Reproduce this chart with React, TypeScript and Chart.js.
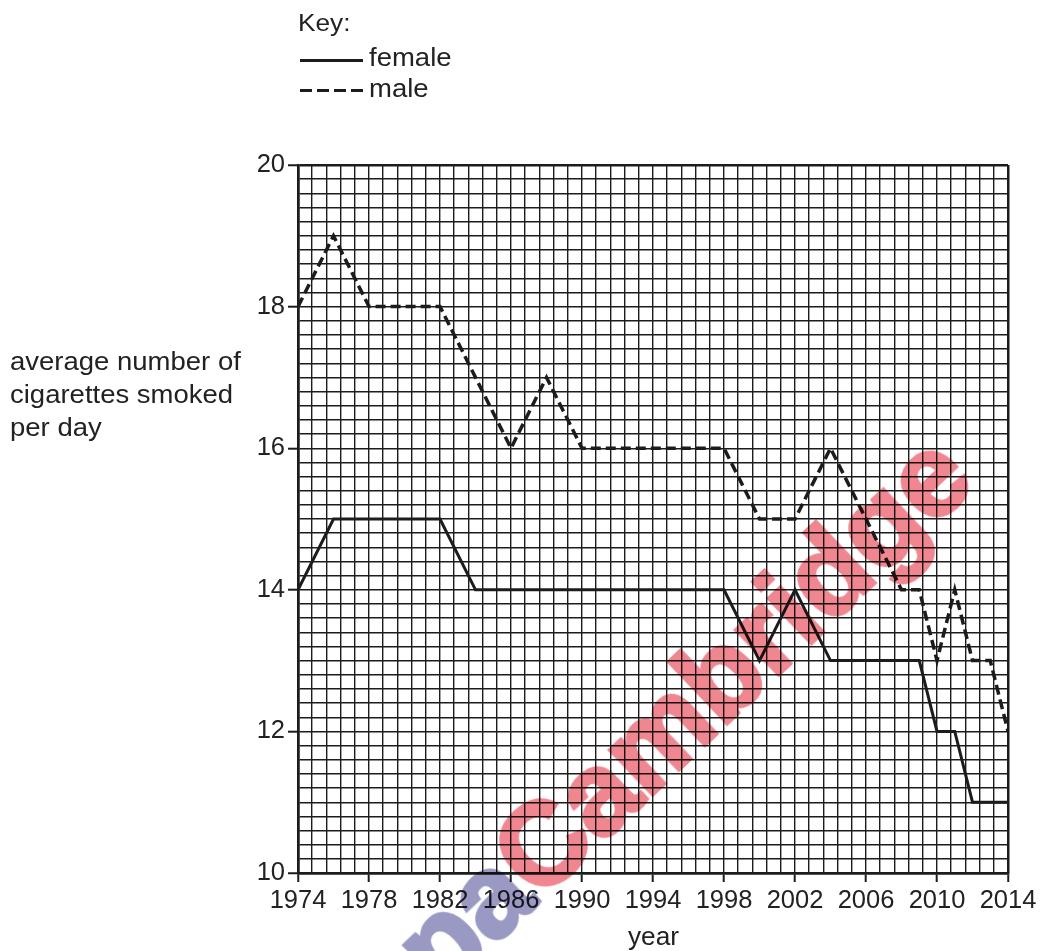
import React, { useEffect, useRef } from "react";
import { Chart, registerables } from "chart.js";

Chart.register(...registerables);

// ---- data ----
const femaleYears = [1974, 1976, 1982, 1984, 1998, 2000, 2002, 2004, 2009, 2010, 2011, 2012, 2014];
const femaleValues = [14, 15, 15, 14, 14, 13, 14, 13, 13, 12, 12, 11, 11];

const maleYears = [1974, 1976, 1978, 1982, 1986, 1988, 1990, 1998, 2000, 2002, 2004, 2008, 2009, 2010, 2011, 2012, 2013, 2014];
const maleValues = [18, 19, 18, 18, 16, 17, 16, 16, 15, 15, 16, 14, 14, 13, 14, 13, 13, 12];

const xMin = 1974;
const xMax = 2014;
const xMinorStep = 0.8; // 5 grid squares per 4 years
const xLabelEvery = 5;
const yMin = 10;
const yMax = 20;
const yMinorStep = 0.2;
const yLabelEvery = 10;

const seriesLabels = ["female", "male"];
const xTitle = "year";
const yTitleLines = ["average number of", "cigarettes smoked", "per day"];

const FONT = '"Liberation Sans", Arial, Helvetica, sans-serif';
const INK = "#1c1c1c";

export default function App() {
  const ref = useRef<HTMLCanvasElement>(null);

  useEffect(() => {
    const canvas = ref.current;
    if (!canvas) return;
    const nx = Math.round((xMax - xMin) / xMinorStep);
    const ny = Math.round((yMax - yMin) / yMinorStep);
    const chart = new Chart(canvas, {
      type: "line",
      data: {
        datasets: [
          {
            label: seriesLabels[0],
            data: femaleYears.map((x, i) => ({ x, y: femaleValues[i] })),
            borderColor: INK,
            borderWidth: 3,
            pointRadius: 0,
            tension: 0,
            fill: false,
          },
          {
            label: seriesLabels[1],
            data: maleYears.map((x, i) => ({ x, y: maleValues[i] })),
            borderColor: INK,
            borderWidth: 3.5,
            borderDash: [10, 5],
            pointRadius: 0,
            tension: 0,
            fill: false,
          },
        ],
      },
      options: {
        responsive: false,
        animation: false,
        layout: { padding: { left: 0, top: 165, right: 34, bottom: 0 } },
        plugins: { legend: { display: false }, tooltip: { enabled: false } },
        scales: {
          x: {
            type: "linear",
            min: xMin,
            max: xMax,
            afterBuildTicks: (s: any) => {
              s.ticks = Array.from({ length: nx + 1 }, (_, i) => ({ value: xMin + i * xMinorStep }));
            },
            afterFit: (s: any) => {
              s.height = 78;
            },
            ticks: {
              autoSkip: false,
              maxRotation: 0,
              minRotation: 0,
              padding: 4,
              color: "#222",
              font: { family: FONT, size: 25.5 },
              callback: (v: any, i: number) => (i % xLabelEvery === 0 ? String(Math.round(Number(v))) : ""),
            },
            grid: {
              color: INK,
              lineWidth: (c: any) => (c.index === 0 || c.index === nx ? 2.5 : 1.4),
              tickLength: 9,
              tickWidth: 2,
              tickColor: (c: any) => (c.index % xLabelEvery === 0 ? INK : "rgba(0,0,0,0)"),
            },
            border: { color: INK, width: 2.5 },
          },
          y: {
            type: "linear",
            min: yMin,
            max: yMax,
            afterBuildTicks: (s: any) => {
              s.ticks = Array.from({ length: ny + 1 }, (_, i) => ({ value: yMin + i * yMinorStep }));
            },
            afterFit: (s: any) => {
              s.width = 298;
            },
            ticks: {
              autoSkip: false,
              padding: 3,
              color: "#222",
              font: { family: FONT, size: 25.5 },
              callback: (v: any, i: number) => (i % yLabelEvery === 0 ? String(Math.round(Number(v))) : ""),
            },
            grid: {
              color: INK,
              lineWidth: (c: any) => (c.index === 0 || c.index === ny ? 2.5 : 1.4),
              tickLength: 10,
              tickWidth: 2,
              tickColor: (c: any) => (c.index % yLabelEvery === 0 ? INK : "rgba(0,0,0,0)"),
            },
            border: { color: INK, width: 2.5 },
          },
        },
      },
    });
    return () => chart.destroy();
  }, []);

  const text = (fs: number, sx: number): React.CSSProperties => ({
    position: "absolute",
    fontFamily: FONT,
    fontSize: fs,
    lineHeight: `${fs}px`,
    color: "#222",
    whiteSpace: "nowrap",
    transform: `scaleX(${sx})`,
    transformOrigin: "0 50%",
  });

  return (
    <div
      style={{
        position: "fixed",
        left: 0,
        top: 0,
        width: 1042,
        height: 951,
        overflow: "hidden",
        background: "#fff",
      }}
    >
      <canvas ref={ref} width={1042} height={951} style={{ position: "absolute", left: 0, top: 0 }} />

      {/* key */}
      <div style={{ ...text(24.5, 1.07), left: 298, top: 11 }}>Key:</div>
      <div style={{ position: "absolute", left: 300, top: 59, width: 63, borderTop: `3px solid ${INK}` }} />
      <div style={{ ...text(25, 1.1), left: 369, top: 45 }}>{seriesLabels[0]}</div>
      <div style={{ position: "absolute", left: 300, top: 89, width: 63, height: 3, background: `repeating-linear-gradient(90deg, ${INK} 0 12px, transparent 12px 17px)` }} />
      <div style={{ ...text(25, 1.1), left: 369, top: 76 }}>{seriesLabels[1]}</div>

      {/* y axis title */}
      {yTitleLines.map((l, i) => (
        <div key={i} style={{ ...text(25, 1.1), left: 10, top: [349, 382, 415][i] }}>
          {l}
        </div>
      ))}

      {/* x axis title */}
      <div style={{ ...text(25, 1.05), left: 628, top: 924 }}>{xTitle}</div>

      {/* watermark */}
      <div
        style={{
          position: "absolute",
          left: 631,
          top: 760,
          transform: "translate(-50%, -50%) rotate(-43.6deg)",
          fontFamily: FONT,
          fontWeight: "bold",
          fontSize: 116,
          lineHeight: "116px",
          whiteSpace: "nowrap",
          mixBlendMode: "multiply",
          opacity: 0.85,
          pointerEvents: "none",
        }}
      >
        <span style={{ color: "rgb(135,135,185)", WebkitTextStroke: "4px rgb(135,135,185)" } as React.CSSProperties}>Papa</span>
        <span style={{ color: "rgb(236,112,124)", WebkitTextStroke: "4px rgb(236,112,124)" } as React.CSSProperties}>Cambridge</span>
      </div>
    </div>
  );
}
